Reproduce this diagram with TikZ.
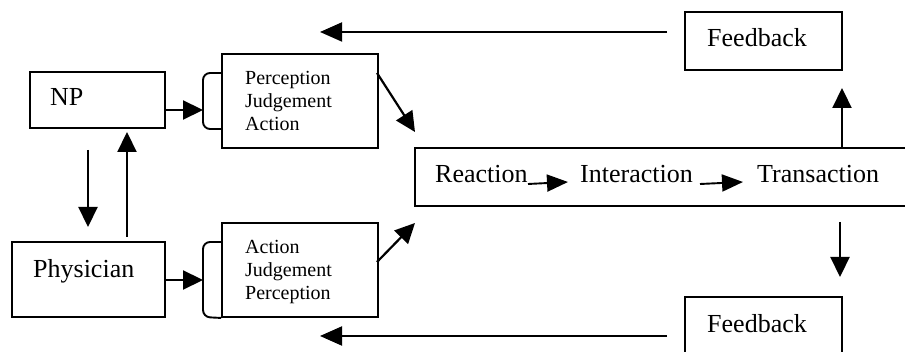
\documentclass[tikz,border=0pt]{standalone}
\usepackage{fontspec}
\setmainfont{Liberation Serif}
\usetikzlibrary{arrows.meta}
\begin{document}
\begin{tikzpicture}[x=1pt,y=-1pt,
  box/.style={draw,line width=1.9pt,inner sep=0pt},
  bigtxt/.style={font=\fontsize{26}{28}\selectfont,inner sep=0pt,anchor=base west},
  smalltxt/.style={font=\fontsize{20}{23}\selectfont,inner sep=0pt,anchor=base west},
  conn/.style={line width=2.2pt,-{Triangle[length=20pt,width=19pt]}},
  longconn/.style={line width=1.9pt,-{Triangle[length=22pt,width=19pt]}},
  smallconn/.style={line width=1.9pt,-{Triangle[length=21pt,width=17pt]}}
]
\clip (0,0) rectangle (905,352);
\fill[white] (0,0) rectangle (905,352);
% boxes
\node[box,minimum width=135pt,minimum height=56pt] (npbox) at (97.5,100) {};
\node[box,minimum width=153pt,minimum height=75pt] (phys) at (88.5,279.5) {};
\node[box,minimum width=156pt,minimum height=94pt] (perc) at (300,101) {};
\node[box,minimum width=156pt,minimum height=94pt] (act) at (300,270) {};
\node[box,minimum width=500pt,minimum height=58pt] (ctr) at (665,177) {};
\node[box,minimum width=157pt,minimum height=58pt] (fbtop) at (763.5,41) {};
\node[box,minimum width=157pt,minimum height=70pt] (fbbot) at (763.5,332) {};
% brackets
\draw[line width=1.9pt,rounded corners=7pt] (perc.west |- 0,73) -- (203,73) -- (203,129) -- (perc.west |- 0,129);
\draw[line width=1.9pt,rounded corners=7pt] (act.west |- 0,242) -- (203,242) -- (203,317) -- (act.south west);
% texts
\node[bigtxt] (tnp) at (50,106) {NP};
\node[bigtxt] (tphys) at (33,278) {Physician};
\node[smalltxt] (p1) at (245,85) {Perception};
\node[smalltxt] (p2) at (245,108) {Judgement};
\node[smalltxt] (p3) at (245,131) {Action};
\node[smalltxt] (a1) at (245,254) {Action};
\node[smalltxt] (a2) at (245,277) {Judgement};
\node[smalltxt] (a3) at (245,300) {Perception};
\node[bigtxt] (rea) at (435,183) {Reaction};
\node[bigtxt] (inter) at (580,183) {Interaction};
\node[bigtxt] (trans) at (757,183) {Transaction};
\node[bigtxt] (fb1) at (707,47) {Feedback};
\node[bigtxt] (fb2) at (707,333) {Feedback};
% free ends
\coordinate (brtop) at (203,110);
\coordinate (brbot) at (203,280);
\coordinate (npin) at (127,132);
\coordinate (physin) at (88,227);
\coordinate (npout) at (88,150);
\coordinate (physout) at (127,237);
\coordinate (percout) at (377,73);
\coordinate (ctrin1) at (415,132);
\coordinate (actout) at (377,262);
\coordinate (ctrin2) at (415,223);
\coordinate (ra) at (528,184);
\coordinate (rb) at (568,182);
\coordinate (ia) at (700,184);
\coordinate (ib) at (743,182);
\coordinate (upend) at (842,88);
\coordinate (downstart) at (840,222);
\coordinate (downend) at (840,277);
\coordinate (topend) at (320,32);
\coordinate (topstart) at (667,32);
\coordinate (botend) at (320,336);
\coordinate (botstart) at (667,336);
% connectors
\draw[conn] (npbox.east |- brtop) -- (brtop);
\draw[conn] (phys.east |- brbot) -- (brbot);
\draw[conn] (npout) -- (physin);
\draw[conn] (physout) -- (npin);
\draw[conn] (percout) -- (ctrin1);
\draw[conn] (actout) -- (ctrin2);
\draw[smallconn] (ra) -- (rb);
\draw[smallconn] (ia) -- (ib);
\draw[conn] (ctr.north -| upend) -- (upend);
\draw[conn] (downstart) -- (downend);
\draw[longconn] (topstart) -- (topend);
\draw[longconn] (botstart) -- (botend);
\end{tikzpicture}
\end{document}
